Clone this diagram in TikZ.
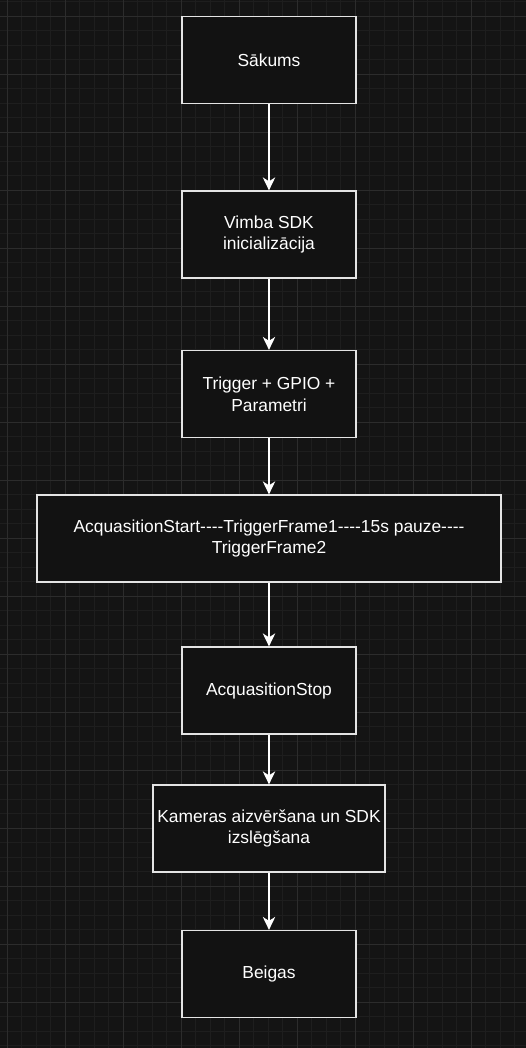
\documentclass[tikz,border=0pt]{standalone}
\usepackage{fontspec}
\setmainfont{Liberation Sans}
\usepackage{tikz}
\usetikzlibrary{arrows.meta}

\definecolor{bgdark}{HTML}{141414}
\definecolor{boxfill}{HTML}{121212}
\definecolor{gridminor}{HTML}{1E1E1E}
\definecolor{gridmajor}{HTML}{2C2C2C}
\definecolor{edgegray}{HTML}{E4E4E4}

\begin{document}
\begin{tikzpicture}[x=1bp, y=-1bp, line width=1.3bp,
    stepbox/.style={draw=edgegray, fill=boxfill, text=white, align=center,
        minimum width=174bp, minimum height=87bp, inner sep=0pt,
        font=\fontsize{17.4bp}{21.7bp}\selectfont},
    flow/.style={draw=white, -{Stealth[length=13bp, width=12.5bp, inset=4bp]}}]
    \fill[bgdark] (0,0) rectangle (526,1048);
    \useasboundingbox (0,0) rectangle (526,1048);

    % grid
    \foreach \gx in {7,21.5,...,526} \draw[gridminor, line width=1bp] (\gx,0) -- (\gx,1048);
    \foreach \gy in {1.5,16,...,1048} \draw[gridminor, line width=1bp] (0,\gy) -- (526,\gy);
    \foreach \gx in {7,65,...,526} \draw[gridmajor, line width=1bp] (\gx,0) -- (\gx,1048);
    \foreach \gy in {16,74,...,1048} \draw[gridmajor, line width=1bp] (0,\gy) -- (526,\gy);

    % boxes
    \node[stepbox] (start) at (269, 60) {Sākums};
    \node[stepbox] (init) at (269, 234.5) {Vimba SDK\\inicializācija};
    \node[stepbox] (param) at (269, 394) {Trigger + GPIO +\\Parametri};
    \node[stepbox, minimum width=464bp] (acq) at (269, 538.5) {AcquasitionStart-{}-{}-{}-TriggerFrame1-{}-{}-{}-15s pauze-{}-{}-{}-\\TriggerFrame2};
    \node[stepbox] (stop) at (269, 690.5) {AcquasitionStop};
    \node[stepbox, minimum width=232bp] (close) at (269, 828.5) {Kameras aizvēršana un SDK\\izslēgšana};
    \node[stepbox] (end) at (269, 974) {Beigas};

    % arrows
    \draw[flow] (start) -- (init);
    \draw[flow] (init) -- (param);
    \draw[flow] (param) -- (acq);
    \draw[flow] (acq) -- (stop);
    \draw[flow] (stop) -- (close);
    \draw[flow] (close) -- (end);
\end{tikzpicture}
\end{document}
